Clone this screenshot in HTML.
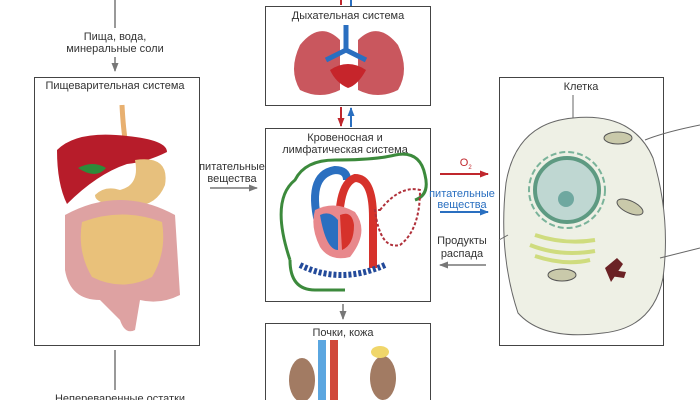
<!DOCTYPE html>
<html><head><meta charset="utf-8"><style>
body{margin:0;background:#fff;}
svg{display:block;font-family:"Liberation Sans","Noto Sans CJK SC",sans-serif;}
</style></head><body>
<svg width="700" height="400" viewBox="0 0 700 400">
<defs>
<marker id="ag" markerUnits="userSpaceOnUse" markerWidth="9" markerHeight="8" refX="8" refY="4" orient="auto"><path d="M0,0.5 L9,4 L0,7.5 z" fill="#777"/></marker>
<marker id="ar" markerUnits="userSpaceOnUse" markerWidth="9" markerHeight="8" refX="8" refY="4" orient="auto"><path d="M0,0.5 L9,4 L0,7.5 z" fill="#c0272d"/></marker>
<marker id="ab" markerUnits="userSpaceOnUse" markerWidth="9" markerHeight="8" refX="8" refY="4" orient="auto"><path d="M0,0.5 L9,4 L0,7.5 z" fill="#2a6fc0"/></marker>
</defs>
<g font-size="11" fill="#333" text-anchor="middle">
<line x1="115" y1="0" x2="115" y2="28" stroke="#777" stroke-width="1.5"/>
<text x="115" y="40">Пища, вода,</text>
<text x="115" y="52">минеральные соли</text>
<line x1="115" y1="57" x2="115" y2="71" stroke="#777" stroke-width="1.5" marker-end="url(#ag)"/>
<rect x="34.5" y="77.5" width="165" height="268" fill="#fff" stroke="#444"/>
<text x="115" y="89">Пищеварительная система</text>
<line x1="115" y1="350" x2="115" y2="390" stroke="#777" stroke-width="1.5"/>
<text x="120" y="402">Непереваренные остатки</text>
<path d="M122 105 q2 40 8 55" stroke="#e8b070" stroke-width="5" fill="none"/>
<path d="M57 150 q20 -20 70 -14 q40 4 40 16 q-20 10 -40 12 q-30 10 -60 40 q-10 -20 -10 -54z" fill="#b71c2a"/>
<path d="M78 168 q15 -8 28 0 q-10 12 -28 0z" fill="#2e8b3a"/>
<path d="M135 160 q35 -5 30 25 q-10 25 -40 20 q-30 0 -30 -10 q10 -10 25 -5 q20 -5 15 -30z" fill="#e7c07d"/>
<path d="M65 215 q55 -30 110 0 l5 80 q-20 10 -40 5 l-5 30 q-10 5 -15 -10 l-20 -20 q-30 0 -35 -30z" fill="#dea2a2"/>
<path d="M82 222 q40 -15 80 0 q5 30 -10 55 q-30 15 -60 0 q-15 -25 -10 -55z" fill="#e9c17a"/>
<text x="232" y="170">питательные</text>
<text x="232" y="182">вещества</text>
<line x1="210" y1="188" x2="257" y2="188" stroke="#777" stroke-width="1.5" marker-end="url(#ag)"/>
<line x1="341" y1="0" x2="341" y2="5" stroke="#c0272d" stroke-width="2"/>
<line x1="351" y1="0" x2="351" y2="6" stroke="#2a6fc0" stroke-width="2"/>
<rect x="265.5" y="6.5" width="165" height="99" fill="#fff" stroke="#444"/>
<text x="348" y="19">Дыхательная система</text>
<path d="M300 45 q20 -25 40 -5 l0 50 q-20 10 -40 0 q-12 -20 0 -45z" fill="#c9575e"/>
<path d="M398 45 q-20 -25 -40 -5 l0 50 q20 10 40 0 q12 -20 0 -45z" fill="#c9575e"/>
<path d="M346 25 v25 m-20 10 l20 -10 20 10" stroke="#2a6fc0" stroke-width="5" fill="none"/>
<path d="M330 70 q18 -12 36 0 q-8 15 -18 18 q-12 -5 -18 -18z" fill="#c6252b"/>
<line x1="341" y1="107" x2="341" y2="126" stroke="#c0272d" stroke-width="2" marker-end="url(#ar)"/>
<line x1="351" y1="127" x2="351" y2="108" stroke="#2a6fc0" stroke-width="2" marker-end="url(#ab)"/>
<rect x="265.5" y="128.5" width="165" height="173" fill="#fff" stroke="#444"/>
<text x="345" y="141">Кровеносная и</text>
<text x="345" y="153">лимфатическая система</text>
<path d="M290 260 q-20 -60 5 -80 q10 -20 40 -20 q40 0 60 -5 q25 -5 30 20 q5 20 -10 25" stroke="#3c8a3c" stroke-width="3" fill="none"/>
<path d="M290 260 q0 30 25 30 h30" stroke="#3c8a3c" stroke-width="3" fill="none"/>
<path d="M320 230 q-15 -55 15 -60 q12 0 12 10" stroke="#2a6fc0" stroke-width="8" fill="none"/>
<path d="M340 250 q-5 -65 15 -72 q18 0 18 40 v50" stroke="#d6322b" stroke-width="8" fill="none"/>
<path d="M315 210 q20 -10 40 2 q15 20 -5 45 q-20 5 -30 -10 q-10 -20 -5 -37z" fill="#e8888c"/>
<path d="M320 215 q10 -5 18 5 v30 q-12 0 -18 -35z" fill="#2a6fc0"/>
<path d="M340 215 q12 -5 14 10 q0 20 -12 25z" fill="#d6322b"/>
<path d="M380 210 q20 -25 40 -20 q0 40 -20 55 q-20 5 -25 -35z" fill="none" stroke="#b0303a" stroke-width="2" stroke-dasharray="3 2"/>
<path d="M300 265 q40 20 85 0" fill="none" stroke="#234a9a" stroke-width="6" stroke-dasharray="3 2"/>
<line x1="343" y1="304" x2="343" y2="319" stroke="#777" stroke-width="1.5" marker-end="url(#ag)"/>
<rect x="265.5" y="323.5" width="165" height="80" fill="#fff" stroke="#444"/>
<text x="343" y="336">Почки, кожа</text>
<rect x="318" y="340" width="8" height="60" fill="#5aa6e0"/>
<rect x="330" y="340" width="8" height="60" fill="#d0483a"/>
<ellipse cx="302" cy="380" rx="13" ry="22" fill="#a27b63"/>
<ellipse cx="383" cy="378" rx="13" ry="22" fill="#a27b63"/>
<ellipse cx="380" cy="352" rx="9" ry="6" fill="#f0d66a"/>
<text x="464" y="166" fill="#c0272d">O</text><text x="470" y="169" font-size="6" fill="#c0272d">2</text>
<line x1="440" y1="174" x2="488" y2="174" stroke="#c0272d" stroke-width="2" marker-end="url(#ar)"/>
<text x="462" y="197" fill="#2a6fc0">питательные</text>
<text x="462" y="208" fill="#2a6fc0">вещества</text>
<line x1="440" y1="212" x2="488" y2="212" stroke="#2a6fc0" stroke-width="2" marker-end="url(#ab)"/>
<text x="462" y="244">Продукты</text>
<text x="462" y="257">распада</text>
<line x1="486" y1="265" x2="440" y2="265" stroke="#777" stroke-width="1.5" marker-end="url(#ag)"/>
<rect x="499.5" y="77.5" width="164" height="268" fill="#fff" stroke="#444"/>
<text x="581" y="90">Клетка</text>
<path d="M573 118 q60 -6 80 40 q18 60 10 120 q-10 50 -60 55 q-60 8 -85 -20 q-20 -60 -12 -130 q10 -60 67 -65z" fill="#eef0e5" stroke="#666"/>
<line x1="573" y1="95" x2="573" y2="118" stroke="#666"/>
<path d="M645 140 q20 -8 55 -15 M660 258 l40 -10 M508 235 l-9 5" stroke="#666" fill="none"/>
<circle cx="567" cy="190" r="32" fill="#bfd7d2" stroke="#5e9a82" stroke-width="4"/>
<circle cx="567" cy="190" r="38" fill="none" stroke="#7ab39a" stroke-width="2" stroke-dasharray="6 3"/>
<circle cx="566" cy="199" r="8" fill="#6fa8a0"/>
<path d="M535 235 q30 10 60 5 M530 245 q30 12 65 6 M535 256 q30 10 55 4" stroke="#cfdc7e" stroke-width="4" fill="none"/>
<ellipse cx="618" cy="138" rx="14" ry="6" fill="#c9c9aa" stroke="#555"/>
<ellipse cx="630" cy="207" rx="14" ry="6" fill="#c9c9aa" stroke="#555" transform="rotate(25 630 207)"/>
<ellipse cx="562" cy="275" rx="14" ry="6" fill="#c9c9aa" stroke="#555"/>
<path d="M605 268 l12 -10 6 6 -12 18z M612 270 l14 2 -2 6 -14 -2z" fill="#6b2225"/>
</g>
</svg>
</body></html>
